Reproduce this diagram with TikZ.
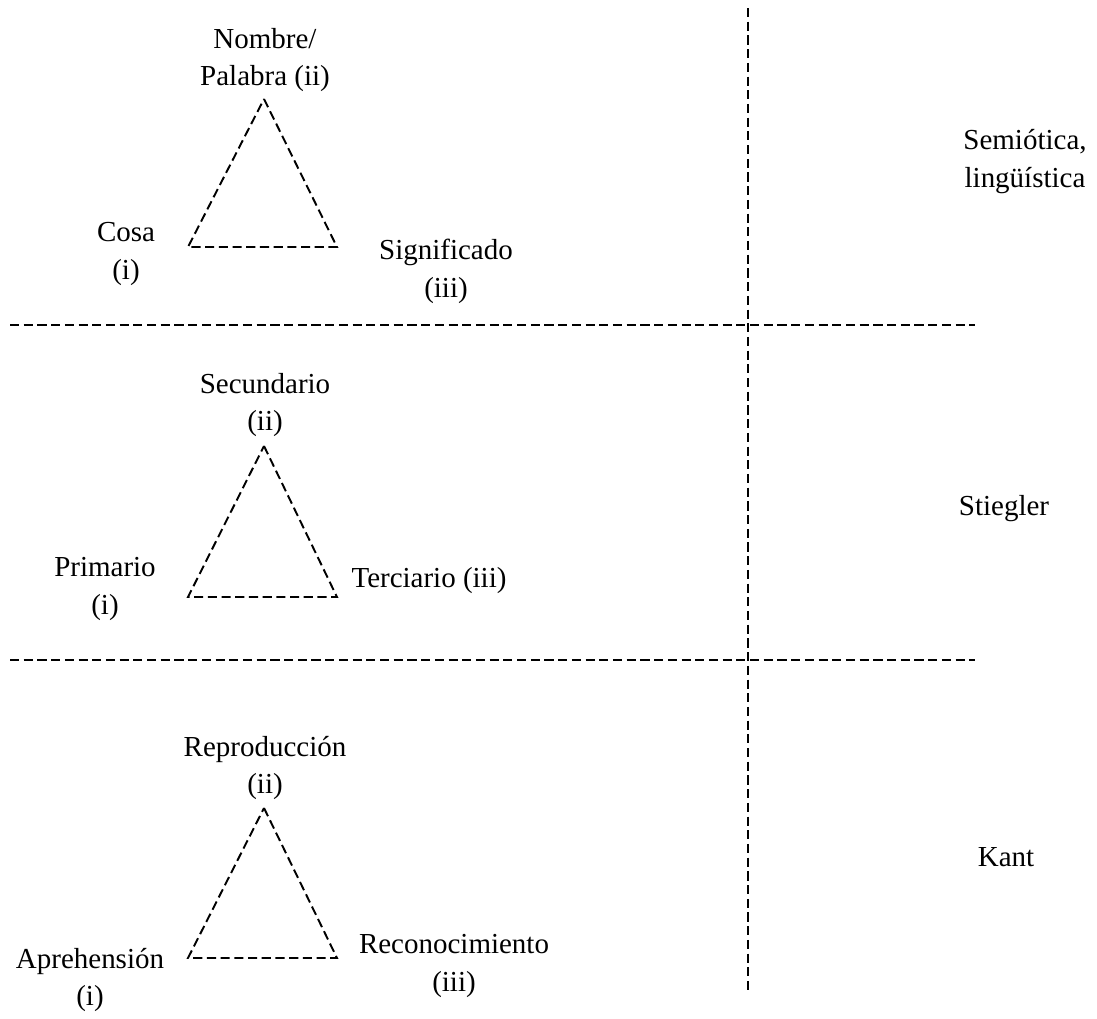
\documentclass[tikz,border=0pt]{standalone}
\usepackage{fontspec}
\setmainfont{Liberation Serif}
\begin{document}
\begin{tikzpicture}[x=0.02cm,y=-0.02cm,
  guide/.style={line width=1.1pt,dash pattern=on 5.2pt off 2.6pt},
  lbl/.style={inner sep=0pt,align=center,font=\fontsize{16.5}{21.6}\selectfont}]
\useasboundingbox (0,0) rectangle (1097,1018);

% separators
\coordinate (vtop) at (748,8);
\coordinate (vbot) at (748,992);
\coordinate (h1l) at (10,325);
\coordinate (h1r) at (975,325);
\coordinate (h2l) at (10,660);
\coordinate (h2r) at (975,660);
\draw[guide] (vtop) -- (vbot);
\draw[guide] (h1l) -- (h1r);
\draw[guide] (h2l) -- (h2r);

% semiotics triangle
\coordinate (a1) at (264,99);
\coordinate (b1) at (188,247);
\coordinate (c1) at (337,247);
\draw[guide] (a1) -- (c1) -- (b1) -- cycle;
\node[lbl] (n1) at (265,60) {Nombre/\\Palabra (ii)};
\node[lbl] (l1) at (126,254) {Cosa\\(i)};
\node[lbl] (r1) at (446,271) {Significado\\(iii)};
\node[lbl] (t1) at (1025,162) {Semiótica,\\lingüística};

% Stiegler triangle
\coordinate (a2) at (264,446);
\coordinate (b2) at (188,597);
\coordinate (c2) at (337,597);
\draw[guide] (a2) -- (c2) -- (b2) -- cycle;
\node[lbl] (n2) at (265,405) {Secundario\\(ii)};
\node[lbl] (l2) at (105,589) {Primario\\(i)};
\node[lbl] (r2) at (429,581) {Terciario (iii)};
\node[lbl] (t2) at (1004,509) {Stiegler};

% Kant triangle
\coordinate (a3) at (264,808);
\coordinate (b3) at (188,958);
\coordinate (c3) at (337,958);
\draw[guide] (a3) -- (c3) -- (b3) -- cycle;
\node[lbl] (n3) at (265,768) {Reproducción\\(ii)};
\node[lbl] (l3) at (90,980) {Aprehensión\\(i)};
\node[lbl] (r3) at (454,966) {Reconocimiento\\(iii)};
\node[lbl] (t3) at (1006,857) {Kant};
\end{tikzpicture}
\end{document}
